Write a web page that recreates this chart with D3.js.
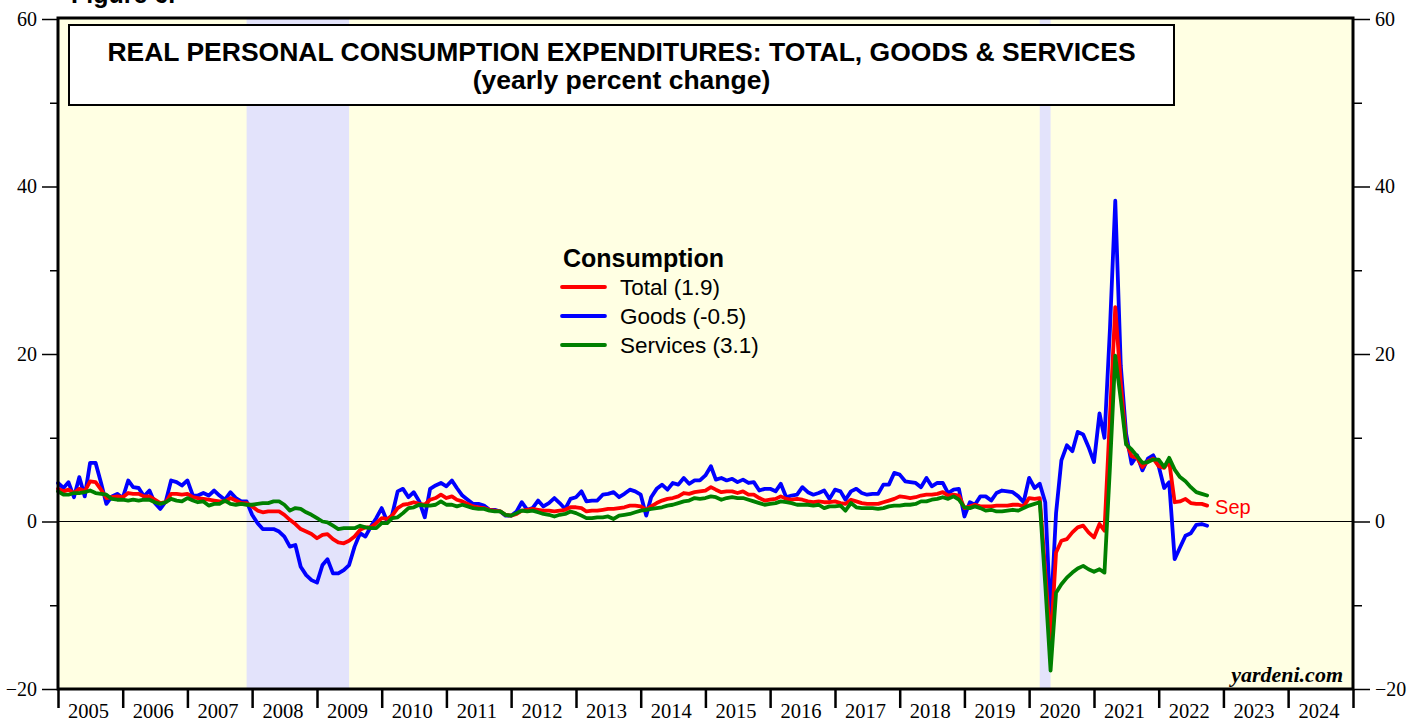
<!DOCTYPE html>
<html>
<head>
<meta charset="utf-8">
<script src="https://cdn.jsdelivr.net/npm/d3@7"></script>
<style>
  body { margin: 0; background: #fff; }
  svg { display: block; }
</style>
</head>
<body>
<svg id="chart" width="1421" height="721"></svg>
<script>
// monthly yoy % change, first value = Dec 2004, plotted at month end
const firstMonth = new Date(2004, 11, 1);

const total = [
  3.9, 3.6, 3.8, 3.4, 3.9, 3.6, 4.8, 4.7, 3.8, 2.8,
  2.9, 3.0, 2.9, 3.4, 3.3, 3.3, 3.0, 3.0, 2.6, 2.2,
  2.3, 3.3, 3.3, 3.2, 3.3, 2.9, 2.8, 2.7, 2.6, 2.5,
  2.4, 2.4, 2.8, 2.5, 2.2, 2.2, 1.8, 1.3, 1.1, 1.2,
  1.2, 1.2, 0.8, 0.2, -0.3, -0.9, -1.2, -1.5, -2.0, -1.6,
  -1.5, -2.1, -2.5, -2.6, -2.3, -1.8, -1.0, -0.7, -0.7, -0.2,
  0.4, 0.3, 0.7, 1.6, 2.0, 2.1, 2.3, 2.1, 2.0, 2.6,
  2.8, 3.2, 2.8, 3.0, 2.6, 2.4, 2.1, 1.8, 1.7, 1.6,
  1.4, 1.3, 1.2, 0.8, 0.7, 0.9, 1.3, 1.4, 1.5, 1.4,
  1.3, 1.3, 1.2, 1.3, 1.4, 1.7, 1.7, 1.6, 1.2, 1.3,
  1.3, 1.4, 1.5, 1.5, 1.6, 1.7, 1.9, 1.9, 1.8, 1.4,
  1.8, 2.2, 2.5, 2.7, 2.8, 3.0, 3.4, 3.3, 3.5, 3.6,
  3.7, 4.1, 3.8, 3.5, 3.6, 3.6, 3.4, 3.6, 3.2, 3.2,
  2.8, 2.5, 2.6, 2.7, 3.0, 2.7, 2.6, 2.7, 2.6, 2.4,
  2.3, 2.4, 2.3, 2.3, 2.4, 2.2, 2.1, 2.6, 2.4, 2.2,
  2.1, 2.1, 2.1, 2.3, 2.5, 2.7, 3.0, 2.9, 2.8, 2.9,
  3.1, 3.2, 3.2, 3.3, 3.5, 3.1, 3.2, 3.1, 1.6, 1.8,
  2.0, 1.8, 1.8, 1.8, 1.9, 1.9, 1.9, 2.0, 2.0, 1.8,
  2.8, 2.7, 2.8, -6.0, -14.7, -3.7, -2.3, -2.1, -1.3, -0.7,
  -0.5, -1.3, -1.9, -0.3, -1.1, 12.5, 25.6, 16.5, 9.5, 7.8,
  7.6, 6.5, 7.2, 7.5, 6.6, 6.4, 7.2, 2.3, 2.4, 2.7,
  2.2, 2.1, 2.1, 1.9
];

const goods = [
  4.6, 4.0, 4.7, 2.9, 5.3, 3.0, 7.0, 7.0, 4.6, 2.1,
  3.0, 3.3, 2.8, 4.9, 4.1, 4.0, 3.0, 3.7, 2.2, 1.5,
  2.4, 4.9, 4.7, 4.3, 4.9, 3.1, 3.1, 3.4, 3.1, 3.7,
  3.1, 2.6, 3.5, 2.8, 2.4, 2.4, 0.8, -0.2, -0.9, -0.9,
  -0.9, -1.2, -1.8, -3.0, -2.8, -5.4, -6.4, -7.0, -7.3, -5.2,
  -4.5, -6.2, -6.2, -5.8, -5.2, -3.0, -1.4, -1.8, -0.6, 0.4,
  1.6, 0.0, 0.8, 3.6, 3.9, 2.9, 3.5, 2.4, 0.5, 3.9,
  4.3, 4.6, 4.2, 4.9, 4.0, 3.1, 2.6, 2.1, 2.1, 1.9,
  1.4, 1.4, 1.2, 0.7, 0.7, 1.2, 2.3, 1.4, 1.6, 2.5,
  1.8, 2.2, 2.8, 2.2, 1.5, 2.7, 2.9, 3.6, 2.4, 2.5,
  2.5, 3.2, 3.3, 3.5, 2.9, 3.3, 3.8, 3.6, 3.2, 0.7,
  2.9, 3.9, 4.4, 3.8, 4.6, 4.4, 5.2, 4.5, 4.9, 4.9,
  5.5, 6.6, 5.0, 5.2, 4.9, 5.1, 4.7, 5.0, 4.6, 4.7,
  3.7, 3.9, 3.9, 3.6, 4.5, 2.9, 3.1, 3.2, 4.1, 3.5,
  3.2, 3.4, 3.7, 2.7, 3.8, 3.6, 2.6, 3.6, 3.9, 3.4,
  3.2, 3.3, 3.3, 4.4, 4.4, 5.8, 5.6, 4.8, 4.7, 4.6,
  4.1, 5.2, 4.2, 4.6, 4.6, 3.4, 3.8, 3.9, 0.6, 2.3,
  2.0, 3.0, 3.0, 2.5, 3.4, 3.7, 3.6, 3.5, 3.0, 2.3,
  5.2, 4.0, 4.5, 2.3, -11.5, 1.0, 7.3, 9.1, 8.4, 10.7,
  10.4, 8.9, 7.1, 12.9, 10.0, 23.0, 38.3, 18.6, 10.5, 6.9,
  7.9, 6.1, 7.5, 7.9, 6.6, 4.0, 4.7, -4.5, -3.1, -1.7,
  -1.4, -0.4, -0.3, -0.5
];

const services = [
  3.6, 3.2, 3.2, 3.4, 3.4, 3.5, 3.7, 3.4, 3.3, 3.2,
  2.7, 2.6, 2.6, 2.5, 2.6, 2.5, 2.6, 2.6, 2.3, 2.1,
  2.3, 2.7, 2.5, 2.4, 2.8, 2.5, 2.3, 2.4, 1.9, 2.1,
  2.1, 2.5, 2.1, 2.0, 2.1, 2.0, 2.0, 2.1, 2.2, 2.2,
  2.4, 2.4, 2.0, 1.3, 1.6, 1.5, 1.1, 0.8, 0.4, 0.0,
  -0.1, -0.5, -0.9, -0.8, -0.8, -0.8, -0.5, -0.7, -0.8, -0.8,
  -0.2, -0.2, 0.4, 0.5, 1.0, 1.6, 1.7, 2.0, 1.9, 1.9,
  2.0, 2.4, 2.0, 2.0, 1.8, 2.0, 1.8, 1.6, 1.5, 1.5,
  1.3, 1.2, 1.2, 0.8, 0.7, 1.0, 1.3, 1.2, 1.3, 1.1,
  0.9, 0.8, 0.6, 0.8, 0.9, 1.2, 1.0, 0.7, 0.4, 0.4,
  0.5, 0.5, 0.6, 0.3, 0.7, 0.8, 0.9, 1.1, 1.3, 1.4,
  1.5, 1.6, 1.7, 1.9, 2.0, 2.2, 2.4, 2.5, 2.8, 2.7,
  2.8, 3.0, 2.9, 2.6, 2.8, 2.9, 2.8, 2.8, 2.6, 2.4,
  2.2, 2.0, 2.1, 2.2, 2.4, 2.3, 2.2, 2.0, 2.0, 2.0,
  1.9, 2.0, 1.6, 1.8, 1.8, 1.9, 1.3, 2.2, 1.7, 1.6,
  1.6, 1.6, 1.5, 1.6, 1.8, 1.9, 1.9, 2.0, 2.0, 2.1,
  2.4, 2.4, 2.6, 2.7, 2.9, 2.7, 3.0, 2.6, 1.7, 1.6,
  1.8, 1.6, 1.3, 1.4, 1.2, 1.2, 1.3, 1.4, 1.3, 1.6,
  1.9, 2.1, 2.3, -7.5, -17.8, -8.5, -7.5, -6.7, -6.1, -5.6,
  -5.3, -5.7, -6.0, -5.7, -6.1, 6.5, 19.8, 14.6, 9.2, 8.6,
  7.8, 7.0, 7.1, 7.4, 7.4, 6.5, 7.6, 6.2, 5.3, 4.8,
  4.1, 3.5, 3.3, 3.1
];

const seriesNames = ["Total (1.9)", "Goods (-0.5)", "Services (3.1)"];
const seriesColors = ["#ff0000", "#0000ff", "#008000"];

const recessions = [
  [new Date(2007, 11, 1), new Date(2009, 6, 1)],
  [new Date(2020, 2, 1), new Date(2020, 4, 1)]
];

const yearLabels = ["2005", "2006", "2007", "2008", "2009", "2010", "2011", "2012", "2013", "2014",
  "2015", "2016", "2017", "2018", "2019", "2020", "2021", "2022", "2023", "2024"];
const yMajor = [-20, 0, 20, 40, 60];
const yMinor = [-10, 10, 30, 50];

const sans = "'Liberation Sans', Arial, sans-serif",
      serif = "'Liberation Serif', 'Times New Roman', serif";

const svg = d3.select("#chart"),
  plotL = 58, plotR = 1353, plotT = 19, plotB = 689;

const x = d3.scaleTime()
  .domain([new Date(2005, 0, 1), new Date(2025, 0, 1)])
  .range([plotL, plotR]);
const y = d3.scaleLinear().domain([-20, 60]).range([plotB, plotT]);

svg.append("text")
  .attr("x", 71).attr("y", 3)
  .style("font", "bold 25px " + sans)
  .text("Figure 6.");

// background + recession bands
svg.append("rect")
  .attr("x", plotL).attr("y", 18)
  .attr("width", plotR - plotL).attr("height", plotB - 18)
  .attr("fill", "#ffffe3");

svg.selectAll(".rec")
  .data(recessions)
  .enter().append("rect")
    .attr("class", "rec")
    .attr("x", d => x(d[0]))
    .attr("y", 18)
    .attr("width", d => x(d[1]) - x(d[0]))
    .attr("height", plotB - 18)
    .attr("fill", "#e3e3fb");

// zero line
svg.append("line")
  .attr("x1", plotL).attr("x2", plotR)
  .attr("y1", y(0)).attr("y2", y(0))
  .attr("stroke", "#000").attr("stroke-width", 1.2);

// series: goods first, then total, services on top
const dateOf = i => d3.timeMonth.offset(firstMonth, i + 1);
const line = d3.line()
  .x((d, i) => x(dateOf(i)))
  .y(d => y(d));

const drawOrder = [[goods, 1], [total, 0], [services, 2]];
svg.selectAll(".series")
  .data(drawOrder)
  .enter().append("path")
    .attr("class", "series")
    .attr("d", d => line(d[0]))
    .attr("fill", "none")
    .attr("stroke", d => seriesColors[d[1]])
    .attr("stroke-width", 3.8)
    .attr("stroke-linejoin", "round")
    .attr("stroke-linecap", "round");

svg.append("text")
  .attr("x", x(dateOf(total.length - 1)) + 8)
  .attr("y", y(total[total.length - 1]) + 8.5)
  .attr("fill", "#ff0000")
  .style("font", "20px " + sans)
  .text("Sep");

// frame
svg.append("rect")
  .attr("x", plotL).attr("y", 18)
  .attr("width", plotR - plotL).attr("height", plotB - 18)
  .attr("fill", "none")
  .attr("stroke", "#000").attr("stroke-width", 3);

// y axes
const yAxis = (g, gen) => {
  g.call(gen.tickSizeOuter(0));
  g.select(".domain").remove();
  g.selectAll("line").attr("stroke", "#000").attr("stroke-width", 1.5);
  g.selectAll("text").style("font", "20px " + serif).attr("fill", "#000");
};

svg.append("g").attr("transform", `translate(${plotL},0)`)
  .call(g => yAxis(g, d3.axisLeft(y).tickValues(yMajor).tickSize(16).tickPadding(5).tickFormat(d3.format("d"))));
svg.append("g").attr("transform", `translate(${plotL},0)`)
  .call(g => yAxis(g, d3.axisLeft(y).tickValues(yMinor).tickSize(8).tickFormat("")));
svg.append("g").attr("transform", `translate(${plotR},0)`)
  .call(g => yAxis(g, d3.axisRight(y).tickValues(yMajor).tickSize(17).tickPadding(5).tickFormat(d3.format("d"))));
svg.append("g").attr("transform", `translate(${plotR},0)`)
  .call(g => yAxis(g, d3.axisRight(y).tickValues(yMinor).tickSize(9).tickFormat("")));

// x axis
const xg = svg.append("g").attr("transform", `translate(0,${plotB})`)
  .call(d3.axisBottom(x).ticks(d3.timeYear.every(1)).tickSize(19).tickSizeOuter(0).tickFormat(""));
xg.select(".domain").remove();
xg.selectAll("line").attr("stroke", "#000").attr("stroke-width", 2.5);

svg.selectAll(".year")
  .data(yearLabels)
  .enter().append("text")
    .attr("class", "year")
    .attr("x", d => x(new Date(+d, 6, 1)) - 1.5)
    .attr("y", 718)
    .attr("text-anchor", "middle")
    .style("font", "20.5px " + serif)
    .text(d => d);

// title box
svg.append("rect")
  .attr("x", 69).attr("y", 25).attr("width", 1105).attr("height", 80)
  .attr("fill", "#fff").attr("stroke", "#000").attr("stroke-width", 2);
svg.append("text")
  .attr("x", 621.5).attr("y", 61)
  .attr("text-anchor", "middle")
  .style("font", "bold 26.5px " + sans)
  .text("REAL PERSONAL CONSUMPTION EXPENDITURES: TOTAL, GOODS & SERVICES");
svg.append("text")
  .attr("x", 621.5).attr("y", 89)
  .attr("text-anchor", "middle")
  .style("font", "bold 26.5px " + sans)
  .text("(yearly percent change)");

// legend
const legend = svg.append("g");
legend.append("text")
  .attr("x", 563).attr("y", 267)
  .style("font", "bold 25px " + sans)
  .text("Consumption");
const item = legend.selectAll(".item")
  .data(seriesNames)
  .enter().append("g")
    .attr("class", "item")
    .attr("transform", (d, i) => `translate(0,${287 + i * 29})`);
item.append("line")
  .attr("x1", 562).attr("x2", 605)
  .attr("stroke", (d, i) => seriesColors[i])
  .attr("stroke-width", 3.8)
  .attr("stroke-linecap", "round");
item.append("text")
  .attr("x", 620).attr("y", 8)
  .style("font", "22.5px " + sans)
  .text(d => d);

svg.append("text")
  .attr("x", 1343).attr("y", 682)
  .attr("text-anchor", "end")
  .style("font", "italic bold 22px " + serif)
  .text("yardeni.com");
</script>
</body>
</html>
